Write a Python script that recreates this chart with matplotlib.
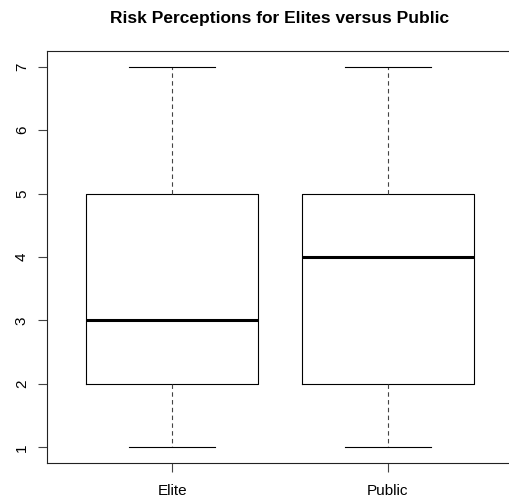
import matplotlib
matplotlib.use("Agg")
import matplotlib.pyplot as plt

plt.rcParams['font.family'] = ['Liberation Sans', 'DejaVu Sans']

groups = ["Elite", "Public"]
mins = [1, 1]
q1s = [2, 2]
medians = [3, 4]
q3s = [5, 5]
maxs = [7, 7]

stats = []
for g, lo, a, m, b, hi in zip(groups, mins, q1s, medians, q3s, maxs):
    stats.append(dict(label=g, whislo=lo, q1=a, med=m, q3=b, whishi=hi, fliers=[]))

fig = plt.figure(figsize=(5.10, 5.03), dpi=100)
ax = fig.add_axes([47/510, 1-462.7/503, (513-47)/510, (462.7-51.3)/503])

ax.bxp(stats, positions=[1, 2], widths=0.8, showfliers=False,
       boxprops=dict(color='black', linewidth=0.8),
       medianprops=dict(color='black', linewidth=2.2, solid_capstyle='butt'),
       whiskerprops=dict(color='#444444', linewidth=0.8, linestyle=(0, (4, 3))),
       capprops=dict(color='black', linewidth=0.8),
       capwidths=0.4)

ax.set_xlim(0.42, 2.58)
ax.set_ylim(0.76, 7.24)
ax.set_yticks([1, 2, 3, 4, 5, 6, 7])
ax.set_yticklabels(['1', '2', '3', '4', '5', '6', '7'], rotation=90, va='center')
ax.set_xticks([1, 2])
ax.set_xticklabels(groups)
ax.tick_params(axis='both', direction='out', length=6.5, width=0.8, labelsize=11, color='#444444')
ax.tick_params(axis='y', pad=6.5)
ax.tick_params(axis='x', pad=9)
for s in ax.spines.values():
    s.set_linewidth(0.8)
    s.set_color('#222222')
ax.spines['right'].set_visible(False)

fig.text(280/510, 1-18/503, "Risk Perceptions for Elites versus Public",
         ha='center', va='center', fontsize=12.5, fontweight='bold')

fig.savefig("out.png", dpi=100)
